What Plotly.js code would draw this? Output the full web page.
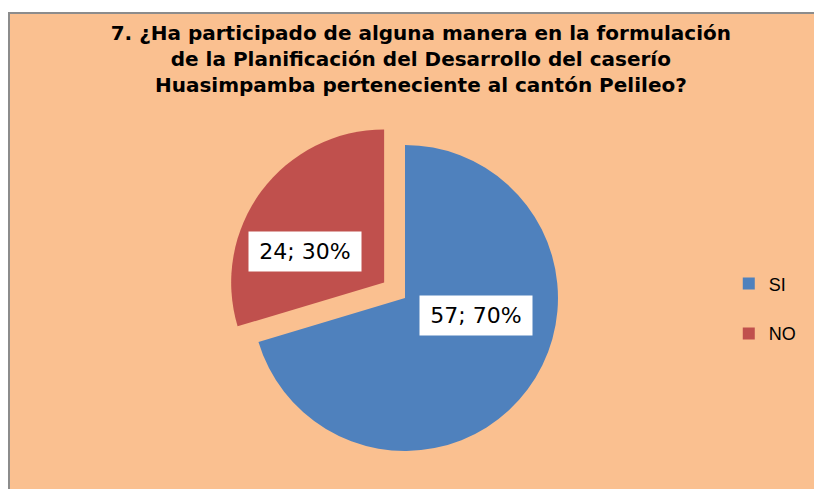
<!DOCTYPE html>
<html>
<head>
<meta charset="utf-8">
<script src="https://cdn.plot.ly/plotly-3.0.1.min.js"></script>
<style>
html,body{margin:0;padding:0;background:#ffffff;width:814px;height:489px;overflow:hidden;}
#frame{position:absolute;left:8px;top:12px;width:806px;height:477px;border-top:2px solid #8c8c8c;border-left:2px solid #8c8c8c;background:#FAC090;}
#chart{position:absolute;left:0;top:0;width:804px;height:475px;}
</style>
</head>
<body>
<div id="frame"><div id="chart"></div></div>
<script>
const categories = ["SI", "NO"];
const values = [57, 24];
const colors = ["#4F81BD", "#C0504D"];
const pulls = [0, 0.17];
const titleText = "7. ¿Ha participado de alguna manera en la formulación<br>de la Planificación del Desarrollo del caserío<br>Huasimpamba perteneciente al cantón Pelileo?";

const W = 804, H = 475;
const domX = [0.2413, 0.7413], domY = [0.0253, 0.7789];
const total = values.reduce((a, b) => a + b, 0);
const maxPull = Math.max(...pulls);
const r = Math.min(W * (domX[1] - domX[0]), H * (domY[1] - domY[0])) / (2 + 2 * maxPull);
const cx = W * (domX[0] + domX[1]) / 2;
const cy = H * (1 - (domY[0] + domY[1]) / 2);

// label positions derived from slice angles (clockwise from 12 o'clock)
const labelFrac = [0.53, 0.552];
const angleShift = [-8.5, -11.5];
const annotations = [];
let acc = 0;
values.forEach((v, i) => {
  const frac = v / total;
  const mid = (acc + frac / 2) * 360 + angleShift[i];
  acc += frac;
  const rad = mid * Math.PI / 180;
  const dx = Math.sin(rad), dy = -Math.cos(rad);
  const px = cx + dx * r * (pulls[i] + labelFrac[i]);
  const py = cy + dy * r * (pulls[i] + labelFrac[i]);
  annotations.push({
    x: px / W, y: 1 - py / H, xref: "paper", yref: "paper",
    text: v + "; " + Math.round(frac * 100) + "%",
    showarrow: false, bgcolor: "#ffffff", width: 110, height: 37,
    font: {family: "DejaVu Sans, sans-serif", size: 22, color: "#000000"}
  });
});

const trace = {
  type: "pie",
  labels: categories.map(c => c + "<br> "),
  values: values,
  marker: {colors: colors, line: {width: 0}},
  pull: pulls,
  sort: false,
  direction: "clockwise",
  rotation: 0,
  textinfo: "none",
  hoverinfo: "label+value+percent",
  domain: {x: domX, y: domY}
};

const layout = {
  width: W, height: H,
  margin: {l: 0, r: 0, t: 0, b: 0},
  paper_bgcolor: "#FAC090",
  plot_bgcolor: "#FAC090",
  title: {
    text: titleText, x: 0.511, xanchor: "center", y: 0.945, yanchor: "top",
    font: {family: "DejaVu Sans, sans-serif", size: 20, color: "#000000", weight: "bold"}
  },
  showlegend: true,
  legend: {
    x: 0.894, xanchor: "left", y: 0.355, yanchor: "middle",
    valign: "top", bgcolor: "rgba(0,0,0,0)",
    font: {family: "Liberation Sans, Arial, sans-serif", size: 18, color: "#000000"}
  },
  annotations: annotations
};

Plotly.newPlot("chart", [trace], layout, {staticPlot: true});
</script>
</body>
</html>
